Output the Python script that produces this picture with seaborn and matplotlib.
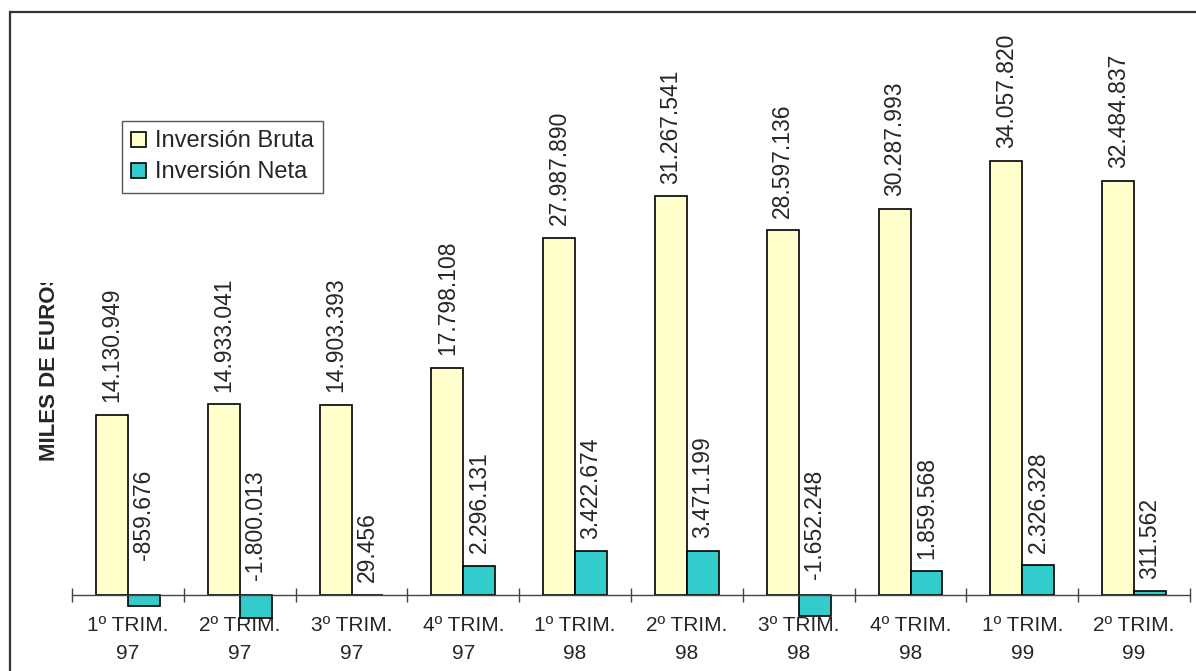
import matplotlib
matplotlib.use("Agg")
import matplotlib.pyplot as plt
import seaborn as sns
import pandas as pd
import numpy as np
from matplotlib.patches import Rectangle
from matplotlib.transforms import Bbox

categories = ["1º TRIM.\n97", "2º TRIM.\n97", "3º TRIM.\n97", "4º TRIM.\n97",
              "1º TRIM.\n98", "2º TRIM.\n98", "3º TRIM.\n98", "4º TRIM.\n98",
              "1º TRIM.\n99", "2º TRIM.\n99"]
bruta = [14130949, 14933041, 14903393, 17798108, 27987890, 31267541,
         28597136, 30287993, 34057820, 32484837]
neta = [-859676, -1800013, 29456, 2296131, 3422674, 3471199,
        -1652248, 1859568, 2326328, 311562]
series_names = ["Inversión Bruta", "Inversión Neta"]
colors = ["#FFFFCC", "#33CCCC"]

sns.set_style("white")
plt.rcParams['font.family'] = ['Liberation Sans', 'DejaVu Sans']

W, H = 1196, 671
fig = plt.figure(figsize=(W / 100, H / 100), dpi=100)

# figure border (Excel chart area)
fig.patches.append(Rectangle((10 / W, -0.1), 1.2, 1 - 12 / H + 0.1,
                             transform=fig.transFigure, fill=False,
                             edgecolor="#333333", linewidth=1.6))

ax_left, ax_right = 72 / W, 1190 / W
ax_bottom, ax_top = 1 - 595 / H, 1 - 12 / H
ax = fig.add_axes([ax_left, ax_bottom, ax_right - ax_left, ax_top - ax_bottom])

df = pd.DataFrame({
    "cat": categories * 2,
    "value": bruta + neta,
    "serie": [series_names[0]] * len(categories) + [series_names[1]] * len(categories),
})

sns.barplot(data=df, x="cat", y="value", hue="serie", palette=colors,
            order=categories, hue_order=series_names, width=0.572,
            saturation=1, edgecolor="black", linewidth=1.2, ax=ax, legend=True)

for p in ax.patches:
    p.set_clip_on(False)

ax.set_xlim(-0.5, len(categories) - 0.5)
ax.set_ylim(0, 45.7e6)

# value labels
def fmt(v):
    return f"{v:,}".replace(",", ".")

for container, vals in zip(ax.containers, [bruta, neta]):
    for bar, v in zip(container, vals):
        xc = bar.get_x() + bar.get_width() / 2
        if v >= 0:
            ax.annotate(fmt(v), (xc, v), xytext=(0, 9), textcoords="offset points",
                        rotation=90, ha="center", va="bottom", fontsize=16.5,
                        annotation_clip=False)
        else:
            ax.annotate(fmt(v), (xc, 0), xytext=(0, 90), textcoords="offset points",
                        rotation=90, ha="center", va="top", fontsize=16.5,
                        annotation_clip=False)

# axes styling
for s in ["top", "right", "left"]:
    ax.spines[s].set_visible(False)
ax.spines["bottom"].set_color("#444444")
ax.spines["bottom"].set_linewidth(1.0)
ax.set_yticks([])
ax.set_xlabel("")
ax.set_ylabel("")
ax.set_xticks(range(len(categories)))
ax.set_xticklabels(categories, fontsize=15, linespacing=1.6)
ax.tick_params(axis="x", which="major", bottom=True, length=0, pad=15)
ax.set_xticks(np.arange(-0.5, len(categories), 1.0), minor=True)
ax.tick_params(axis="x", which="minor", bottom=True, direction="inout", length=9.5,
               width=1.0, color="#444444")
ax.patch.set_alpha(0)

yl = fig.text(50 / W, 1 - 366 / H, "MILES DE EUROS", rotation=90, fontsize=16,
              fontweight="bold", ha="center", va="center")
yl.set_clip_box(Bbox.from_extents(0, 0, W, H - 283))
yl.set_clip_on(True)

# legend
handles, labels = ax.get_legend_handles_labels()
ax.legend(handles, labels, loc="upper left",
          bbox_to_anchor=(122 / W, 1 - 121 / H), bbox_transform=fig.transFigure,
          borderaxespad=0, fontsize=17, frameon=True, fancybox=False,
          framealpha=1, edgecolor="#555555", handlelength=0.6,
          handleheight=0.6, handletextpad=0.4, labelspacing=0.38,
          borderpad=0.4, title=None)
ax.get_legend().get_frame().set_linewidth(1.0)

fig.savefig("out.png", dpi=100)
